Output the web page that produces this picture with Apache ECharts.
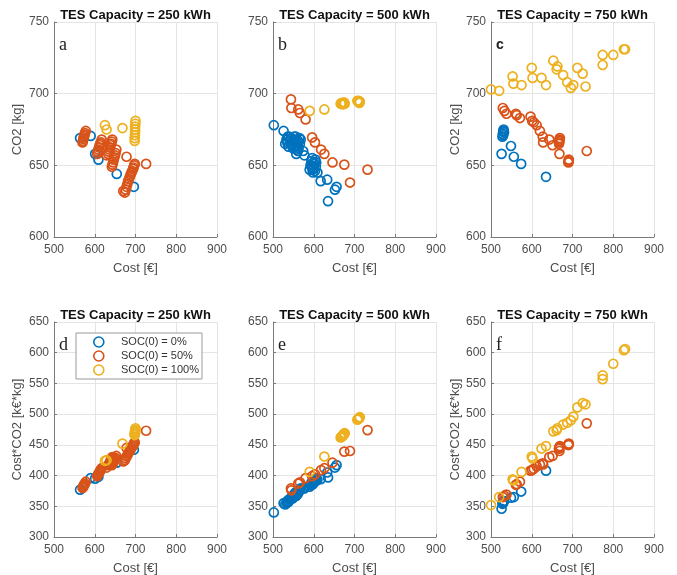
<!DOCTYPE html>
<html>
<head>
<meta charset="utf-8">
<script src="https://cdn.jsdelivr.net/npm/echarts@6/dist/echarts.min.js"></script>
<style>html,body{margin:0;padding:0;background:#fff;}#c{width:677px;height:575px;}</style>
</head>
<body>
<div id="c"></div>
<script>
// ---- labels / ticks ----
const socNames = ['SOC(0) = 0%', 'SOC(0) = 50%', 'SOC(0) = 100%'];
const panelTitles = ['TES Capacity = 250 kWh', 'TES Capacity = 500 kWh', 'TES Capacity = 750 kWh'];
const panelLetters = ['a', 'b', 'c', 'd', 'e', 'f'];
const costTicks = [500, 600, 700, 800, 900];
const co2Ticks = [600, 650, 700, 750];
const prodTicks = [300, 350, 400, 450, 500, 550, 600, 650];

// ---- TES 250 kWh ----
const cost250_0 = [564, 590, 601, 609, 654, 696];
const co2_250_0 = [669, 670.5, 658, 654, 644, 635];
const prod250_0 = [377, 396, 395, 398, 421, 442];

const cost250_50 = [570, 571, 572, 573, 574, 575, 576, 578,
  606, 607.5, 609, 610.5, 612, 613.5, 615, 617,
  633, 634.5, 636, 637.5, 639, 640, 641.5, 643,
  642, 643.5, 645, 646.5, 648, 649.5, 651, 653,
  674, 676, 678, 680, 682, 684, 686, 688, 690, 692, 694, 695, 697, 698,
  678, 726, 629, 670];
const co2_250_50 = [666, 667, 668.5, 669.5, 670.5, 671.5, 672.5, 674,
  658, 659.5, 661, 662.5, 664, 665, 666, 668,
  658, 659.5, 661, 662.5, 664, 665, 666.5, 668,
  649, 650.5, 652, 654, 655.5, 657, 658.5, 661,
  631, 633, 635, 637, 639, 640.5, 642, 643.5, 645, 646, 647.5, 648.5, 650, 651,
  656, 651, 657, 632];
const prod250_50 = [380, 381, 382, 384, 385, 386, 387, 390,
  399, 401, 403, 404, 406, 408, 410, 412,
  417, 418, 420, 422, 424, 426, 428, 430,
  417, 419, 421, 423, 425, 427, 429, 432,
  425, 428, 431, 433, 436, 438, 440, 443, 445, 447, 449, 451, 453, 454,
  445, 473, 413, 423];

const cost250_100 = [625, 629, 668, 698, 698, 698.5, 699, 699, 699, 699.5, 700];
const co2_250_100 = [678, 675, 676, 667, 669, 671, 673, 675, 677, 679, 681];
const prod250_100 = [424, 425, 452, 466, 467, 469, 470, 472, 473, 475, 477];

// ---- TES 500 kWh ----
const cost500_0 = [502, 526, 530, 533, 536, 538, 541, 544, 547, 550, 553, 556, 558, 560, 562, 565, 557, 561,
  535, 539, 543, 549, 552, 555, 559, 563, 566, 568,
  574, 577, 590, 592, 594, 596, 598, 600, 602, 604, 606, 595, 599, 603, 597, 605,
  609, 617, 633, 652, 656, 635];
const co2_500_0 = [678, 674, 665, 668, 670, 663, 667, 669, 664, 666, 668, 670, 661, 664, 667, 669, 658, 660,
  666, 670, 665, 662, 670, 663, 666, 662, 665, 668,
  660, 657, 647, 650, 653, 655, 645, 648, 651, 654, 652, 649, 652, 646, 647, 649,
  645, 639, 640, 633, 635, 625];
const prod500_0 = [340, 355, 353, 356, 359, 357, 361, 364, 363, 366, 369, 373, 369, 372, 375, 378, 367, 370,
  356, 361, 361, 363, 370, 368, 372, 373, 376, 379,
  379, 379, 382, 385, 388, 390, 386, 389, 392, 395, 395, 386, 391, 390, 386, 393,
  393, 394, 405, 413, 417, 397];

const cost500_50 = [544, 545, 562, 566, 580, 596, 603, 618, 626, 646, 675, 689, 732];
const co2_500_50 = [696, 690, 689, 686.5, 682, 669.5, 666, 661, 658, 652, 650.5, 638, 647];
const prod500_50 = [379, 376, 387, 389, 396, 399, 402, 409, 412, 421, 439, 440, 474];

const cost500_100 = [590, 626, 666, 668, 670, 671, 673, 674, 675, 676, 707, 709, 710, 711, 712, 713];
const co2_500_100 = [688, 689, 693, 693.5, 693, 692.5, 693, 694, 693.5, 693, 695, 694.5, 695, 694, 693.5, 694.5];
const prod500_100 = [406, 431, 462, 463, 464, 465, 466, 468, 468, 469, 491, 492, 493, 493, 494, 495];

// ---- TES 750 kWh ----
const cost750_0 = [528, 529, 530, 530, 531, 531, 532, 526, 549, 556, 574, 635];
const co2_750_0 = [670, 672, 674, 671, 675, 673.5, 673, 658, 663.5, 656, 651, 642];
const prod750_0 = [354, 356, 357, 356, 358, 358, 358, 346, 364, 365, 374, 408];

const cost750_50 = [529, 533, 538, 561, 563, 571, 597, 601, 605, 612, 620, 627, 628, 643, 651,
  667, 667, 668, 668, 669, 668, 690, 690, 690, 691, 735];
const co2_750_50 = [690, 688, 686, 686, 685, 683, 684, 681, 680, 678, 674, 670, 666, 668, 664,
  665, 666, 667, 668, 669, 658, 652, 652.5, 653, 654, 660];
const prod750_50 = [365, 367, 369, 385, 386, 390, 408, 409, 411, 415, 418, 420, 418, 430, 432,
  444, 444, 446, 446, 448, 440, 450, 450, 451, 452, 485];

const cost750_100 = [500, 520, 553, 555, 575, 600, 602, 624, 635, 653, 661, 663, 677, 687, 696, 702, 712, 725, 732, 774, 774, 800, 826, 829];
const co2_750_100 = [703, 702, 712, 707, 706, 718, 711, 711, 706, 723, 717, 719, 713, 708, 704, 706, 718, 714, 705, 727, 720, 727, 731, 731];
const prod750_100 = [352, 365, 394, 392, 406, 431, 428, 444, 448, 472, 474, 477, 483, 486, 490, 496, 511, 518, 516, 563, 557, 582, 604, 606];

// ---- build ----
const colors = ['#0072BD', '#D95319', '#EDB120'];
const costSets = [[cost250_0, cost250_50, cost250_100], [cost500_0, cost500_50, cost500_100], [cost750_0, cost750_50, cost750_100]];
const co2Sets = [[co2_250_0, co2_250_50, co2_250_100], [co2_500_0, co2_500_50, co2_500_100], [co2_750_0, co2_750_50, co2_750_100]];
const prodSets = [[prod250_0, prod250_50, prod250_100], [prod500_0, prod500_50, prod500_100], [prod750_0, prod750_50, prod750_100]];

const gridLefts = [54, 273, 491];
const gridTops = [22, 322];
const GW = 163, GH = 215;
const axisCol = '#7a7a7a', labCol = '#4d4d4d', gridCol = '#e4e4e4';
const fontSans = 'Liberation Sans, Arial, sans-serif';

const grids = [], xAxes = [], yAxes = [], series = [], graphics = [];
for (let r = 0; r < 2; r++) {
  for (let c = 0; c < 3; c++) {
    const gi = r * 3 + c;
    grids.push({ left: gridLefts[c], top: gridTops[r], width: GW, height: GH, containLabel: false, outerBoundsMode: 'none' });
    xAxes.push({
      type: 'value', gridIndex: gi, min: costTicks[0], max: costTicks[costTicks.length - 1], interval: 100,
      name: 'Cost [€]', nameLocation: 'middle', nameGap: 25,
      nameTextStyle: { color: labCol, fontSize: 13, fontFamily: fontSans },
      axisLine: { show: true, lineStyle: { color: axisCol, width: 1 } },
      axisTick: { show: true, inside: true, length: 3, lineStyle: { color: axisCol } },
      axisLabel: { color: labCol, fontSize: 12, fontFamily: fontSans, margin: 7 },
      splitLine: { show: true, lineStyle: { color: gridCol, width: 1 } }
    });
    const ticks = r === 0 ? co2Ticks : prodTicks;
    const yName = r === 0 ? 'CO2 [kg]' : 'Cost*CO2 [k€*kg]';
    yAxes.push({
      type: 'value', gridIndex: gi, min: ticks[0], max: ticks[ticks.length - 1], interval: 50,
      name: c === 1 ? '' : yName, nameLocation: 'middle', nameGap: c === 0 ? 30 : 25, nameRotate: 90,
      nameTextStyle: { color: labCol, fontSize: 13, fontFamily: fontSans },
      axisLine: { show: true, lineStyle: { color: axisCol, width: 1 } },
      axisTick: { show: true, inside: true, length: 3, lineStyle: { color: axisCol } },
      axisLabel: { color: labCol, fontSize: 12, fontFamily: fontSans, margin: 5 },
      splitLine: { show: true, lineStyle: { color: gridCol, width: 1 } }
    });
    for (let s = 0; s < 3; s++) {
      const xs = costSets[c][s];
      const ys = r === 0 ? co2Sets[c][s] : prodSets[c][s];
      series.push({
        type: 'scatter', name: socNames[s], xAxisIndex: gi, yAxisIndex: gi,
        data: xs.map((x, i) => [x, ys[i]]),
        symbol: 'circle', symbolSize: 9,
        itemStyle: { color: 'rgba(255,255,255,0)', borderColor: colors[s], borderWidth: 1.7, opacity: 1 },
        emphasis: { disabled: true }, animation: false, z: 2 + s
      });
    }
    graphics.push({
      type: 'text', x: gridLefts[c] + GW / 2, y: gridTops[r] - 7,
      style: { text: panelTitles[c], font: 'bold 13px ' + fontSans, fill: '#111', align: 'center', verticalAlign: 'middle' }
    });
    const isC = panelLetters[gi] === 'c';
    graphics.push({
      type: 'text', x: gridLefts[c] + 5, y: gridTops[r] + 23,
      style: { text: panelLetters[gi], font: isC ? 'bold 14px ' + fontSans : '18px Liberation Serif, Times New Roman, serif', fill: '#222', align: 'left', verticalAlign: 'middle' }
    });
  }
}

const chart = echarts.init(document.getElementById('c'), null, { renderer: 'canvas' });
chart.setOption({
  animation: false,
  backgroundColor: '#fff',
  grid: grids, xAxis: xAxes, yAxis: yAxes, series: series,
  legend: {
    left: 76, top: 333, orient: 'vertical',
    data: socNames.map((n, i) => ({ name: n, icon: 'circle', itemStyle: { color: 'rgba(255,255,255,0)', borderColor: colors[i], borderWidth: 1.6 } })),
    itemWidth: 10, itemHeight: 10, itemGap: 2,
    padding: [3, 3, 3, 17],
    borderColor: '#999', borderWidth: 1, backgroundColor: '#fff',
    formatter: n => '    ' + n,
    textStyle: { fontSize: 11, color: '#333', fontFamily: fontSans, lineHeight: 12 },
    selectedMode: false, z: 10
  },
  graphic: graphics
});
</script>
</body>
</html>
